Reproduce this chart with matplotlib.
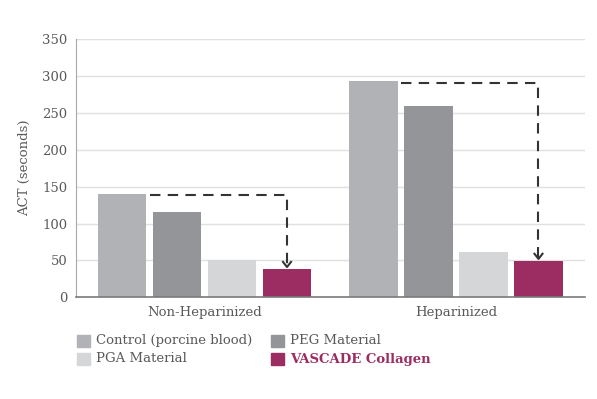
import matplotlib
matplotlib.use('Agg')

import numpy as np
import matplotlib.pyplot as plt
from matplotlib.patches import Rectangle

# Data
groups = ['Non-Heparinized', 'Heparinized']
series = ['Control (porcine blood)', 'PEG Material', 'PGA Material', 'VASCADE Collagen']
control = [140, 293]
peg = [116, 259]
pga = [50, 61]
vascade = [38, 49]
yticks = [0, 50, 100, 150, 200, 250, 300, 350]

colors = ['#b1b2b5', '#939598', '#d5d6d8', '#9c2d63']
textColor = '#5a5a5a'
font = 'DejaVu Serif'

W, H = 597, 399
fig = plt.figure(figsize=(W / 100, H / 100), dpi=100)
ax = fig.add_axes([76 / W, 1 - 297.3 / H, (585 - 76) / W, (297.3 - 39) / H])

x = np.arange(len(groups))
step = 0.2187
width = 0.191
offsets = (np.arange(len(series)) - 1.5) * step
values = [control, peg, pga, vascade]

for i, vals in enumerate(values):
  ax.bar(x + offsets[i], vals, width, color=colors[i], zorder=2)

# dashed arrows from control down to VASCADE
for g in range(len(groups)):
  xs = x[g] + offsets[0] + width / 2 + 0.015
  xe = x[g] + offsets[3]
  yTop = control[g] - 2
  yEnd = vascade[g] + 3
  ax.plot([xs, xe, xe], [yTop, yTop, yEnd], color='#333333', lw=1.5,
          dashes=(5, 3.5), zorder=3)
  ax.plot([xe - 0.016, xe, xe + 0.016], [yEnd + 7, yEnd, yEnd + 7],
          color='#333333', lw=1.5, zorder=3)

ax.set_xlim(-0.511, 1.513)
ax.set_ylim(0, 350)
ax.set_yticks(yticks)
ax.set_xticks(x)
ax.set_xticklabels(groups)
ax.tick_params(length=0, labelsize=9.5, colors=textColor, pad=6)
for lbl in ax.get_xticklabels() + ax.get_yticklabels():
  lbl.set_family(font)
ax.yaxis.grid(True, color='#e0e0e0', lw=1, zorder=0)
ax.set_axisbelow(True)
for s in ['top', 'right']:
  ax.spines[s].set_visible(False)
ax.spines['left'].set_color('#a8a8a8')
ax.spines['bottom'].set_color('#7a7a7a')
ax.spines['bottom'].set_linewidth(1.2)
ax.set_ylabel('ACT (seconds)', family=font, fontsize=9.5, color=textColor, labelpad=8)

# legend, two columns under the chart
legendPos = [(77, 340.7), (271, 340.7), (77, 359), (271, 359)]
for i, name in enumerate(series):
  px, py = legendPos[i]
  fig.add_artist(Rectangle((px / W, 1 - (py + 6) / H), 13 / W, 12 / H,
                           transform=fig.transFigure, color=colors[i]))
  bold = name == 'VASCADE Collagen'
  fig.text((px + 19) / W, 1 - py / H, name, family=font, fontsize=9.5,
           va='center', ha='left',
           color=colors[3] if bold else textColor,
           weight='bold' if bold else 'normal')

plt.savefig('out.png', dpi=100)
